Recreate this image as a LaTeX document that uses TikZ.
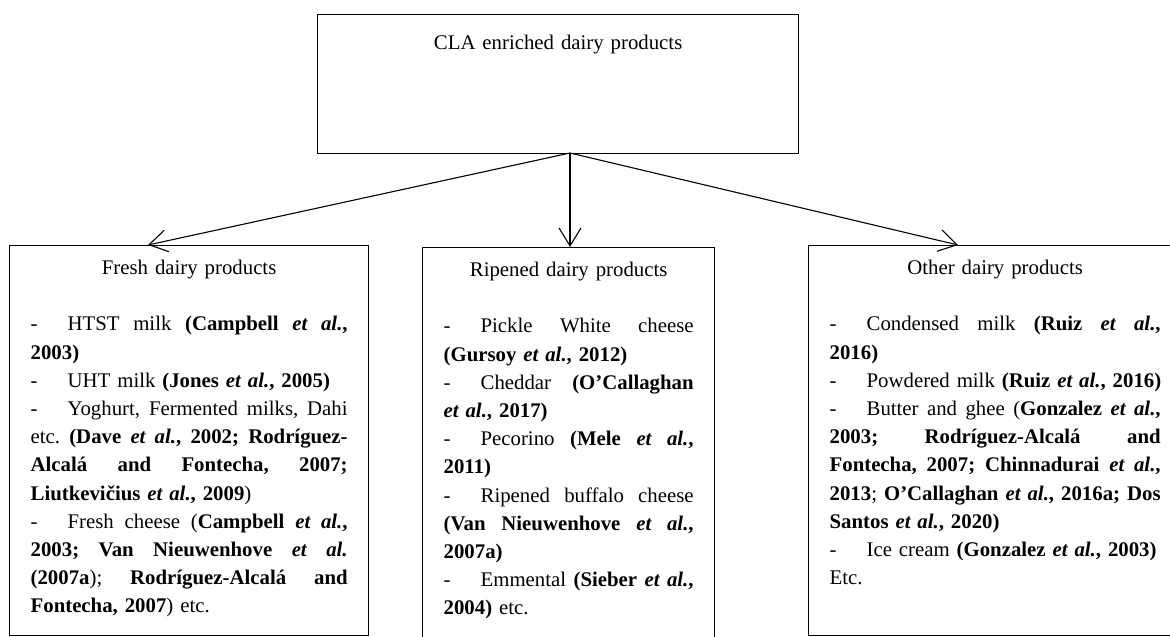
\documentclass[tikz,border=0pt]{standalone}
\usepackage{fontspec}
\setmainfont{Liberation Serif}
\usetikzlibrary{arrows.meta}
\tikzset{
  catbox/.style={draw, line width=1.3pt, anchor=north west, inner xsep=21pt, inner ysep=14.5pt},
  link/.style={line width=1.1pt, -{Straight Barb[length=18pt,width=22pt]}},
}
\newcommand{\etal}{\textit{et al.}}
\newcommand{\itemdash}{\makebox[37pt][l]{-}}
\newcommand{\jline}[1]{\hbox to\hsize{\spaceskip=.25em plus 1fil\relax#1}\par}
\newcommand{\rline}[1]{\hbox{#1}\par}
\newcommand{\boxtitle}[1]{\hbox to\hsize{\hfil#1\hfil}\par}

\begin{document}
\begin{tikzpicture}[x=1pt, y=-1pt, font=\fontsize{20.8}{28.2}\selectfont\frenchspacing]
\useasboundingbox (0,0) rectangle (1170,637);
% main box
\node[catbox, inner ysep=20.5pt, text width=439pt] (cla) at (317,14) {\vbox to 98pt{%
\boxtitle{CLA enriched dairy products}\vfil}};
% the three groups
\node[catbox, text width=317pt] (fresh) at (9,245) {\vbox to 361pt{%
\boxtitle{Fresh dairy products}
\vskip\baselineskip
\jline{\itemdash HTST milk \textbf{(Campbell \etal,}}
\rline{\textbf{2003)}}
\rline{\itemdash UHT milk \textbf{(Jones \etal, 2005)}}
\jline{\itemdash Yoghurt, Fermented milks, Dahi}
\jline{etc. \textbf{(Dave \etal, 2002; Rodríguez-}}
\jline{\textbf{Alcalá and Fontecha, 2007;}}
\rline{\textbf{Liutkevičius \etal, 2009})}
\jline{\itemdash Fresh cheese (\textbf{Campbell \etal,}}
\jline{\textbf{2003; Van Nieuwenhove \etal}}
\jline{\textbf{(2007a}); \textbf{Rodríguez-Alcalá and}}
\rline{\textbf{Fontecha, 2007}) etc.}
\vfil}};
\node[catbox, text width=250pt] (ripe) at (422,247) {\vbox to 369pt{%
\boxtitle{Ripened dairy products}
\vskip\baselineskip
\jline{\itemdash Pickle White cheese}
\rline{\textbf{(Gursoy \etal, 2012)}}
\jline{\itemdash Cheddar \textbf{(O'Callaghan}}
\rline{\textbf{\etal, 2017)}}
\jline{\itemdash Pecorino \textbf{(Mele \etal,}}
\rline{\textbf{2011)}}
\jline{\itemdash Ripened buffalo cheese}
\jline{\textbf{(Van Nieuwenhove \etal,}}
\rline{\textbf{2007a)}}
\jline{\itemdash Emmental \textbf{(Sieber \etal,}}
\rline{\textbf{2004)} etc.}
\vfil}};
\node[catbox, text width=331pt] (other) at (808,245) {\vbox to 361pt{%
\boxtitle{Other dairy products}
\vskip\baselineskip
\jline{\itemdash Condensed milk \textbf{(Ruiz \etal,}}
\rline{\textbf{2016)}}
\rline{\itemdash Powdered milk \textbf{(Ruiz \etal, 2016)}}
\jline{\itemdash Butter and ghee (\textbf{Gonzalez \etal,}}
\jline{\textbf{2003; Rodríguez-Alcalá and}}
\jline{\textbf{Fontecha, 2007; Chinnadurai \etal,}}
\jline{\textbf{2013}; \textbf{O'Callaghan \etal, 2016a; Dos}}
\rline{\textbf{Santos \etal, 2020)}}
\rline{\itemdash Ice cream \textbf{(Gonzalez \etal, 2003)}}
\rline{Etc.}
\vfil}};
% arrows
\coordinate (split) at (570,153);
\coordinate (freshin) at (148,245);
\coordinate (ripein) at (570,247);
\coordinate (otherin) at (958,245);
\draw[link] (split) -- (freshin);
\draw[link] (split) -- (ripein);
\draw[link] (split) -- (otherin);
\end{tikzpicture}
\end{document}
